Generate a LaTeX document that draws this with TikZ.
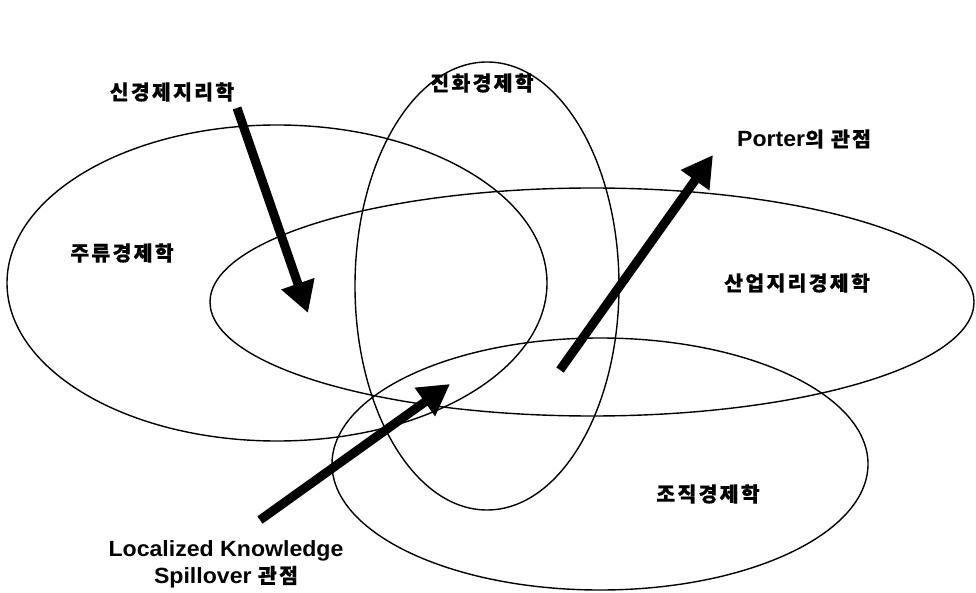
\documentclass[tikz,border=0pt]{standalone}
\usepackage{fontspec}
\setmainfont{Liberation Sans}[FakeStretch=1.05]
\newfontfamily\kr{Noto Sans CJK KR}[LetterSpace=11,FakeBold=0.6]
\usetikzlibrary{arrows.meta}
\begin{document}
\begin{tikzpicture}[x=1pt,y=-1pt,
  setline/.style={line width=1.4pt},
  bigarrow/.style={line width=9pt,-{Triangle[length=31pt,width=33pt]}},
  krlabel/.style={inner sep=0pt,font=\kr\bfseries\fontsize{20.5}{24}\selectfont},
  latlabel/.style={inner sep=0pt,font=\bfseries\fontsize{22}{27}\selectfont,align=center}]
\useasboundingbox (0,0) rectangle (976,593);
% sets
\draw[setline] (277,283) ellipse [x radius=270, y radius=158];
\draw[setline] (487,286) ellipse [x radius=132, y radius=224];
\draw[setline] (592,302) ellipse [x radius=382, y radius=114];
\draw[setline] (600,464) ellipse [x radius=268, y radius=126];
% labels
\node[krlabel] (neg) at (172,92) {신경제지리학};
\node[krlabel] (main) at (122,253) {주류경제학};
\node[krlabel] (evo) at (482,83) {진화경제학};
\node[krlabel] (ind) at (797,283) {산업지리경제학};
\node[krlabel] (org) at (708,494) {조직경제학};
\node[latlabel] (porter) at (804,139) {Porter{\kr\fontsize{20.5}{24}\selectfont 의 관점}};
\node[latlabel] (lks) at (226,564) {Localized Knowledge\\Spillover {\kr\fontsize{20.5}{24}\selectfont 관점}};
% arrow ends
\coordinate (a1s) at (237,108);
\coordinate (a1e) at (308,313);
\coordinate (a2s) at (560,370);
\coordinate (a2e) at (713,155);
\coordinate (a3s) at (260,520);
\coordinate (a3e) at (450,384);
\draw[bigarrow] (a1s) -- (a1e);
\draw[bigarrow] (a2s) -- (a2e);
\draw[bigarrow] (a3s) -- (a3e);
\end{tikzpicture}
\end{document}
